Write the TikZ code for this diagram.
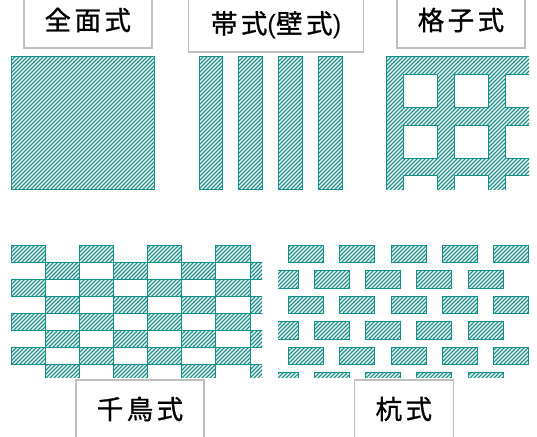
\documentclass[tikz,border=0pt]{standalone}
\usepackage{fontspec}
\usetikzlibrary{patterns.meta}
\newfontfamily\jpfont[LetterSpace=13, FakeBold=1]{Noto Sans CJK JP}
\setsansfont{Liberation Sans}
\definecolor{pileteal}{HTML}{12908A}
\definecolor{boxgray}{HTML}{BFBFBF}
\tikzset{
	hatched/.style  = {draw=pileteal, line width=0.9pt,
		pattern={Lines[angle=45, distance=2.8284pt, line width=1.35pt]},
		pattern color=pileteal},
	namebox/.style  = {draw=boxgray, line width=1.5pt, fill=white,
		inner sep=0pt, font=\jpfont\fontsize{26.5}{26.5}\selectfont},
}

\begin{document}
\begin{tikzpicture}[x=1pt, y=-1pt]    %<--one unit is one reference pixel
	\useasboundingbox (0,0) rectangle (537,436);

	%Full surface and bands:
	\path[hatched] (11,56) rectangle (154,189);
	\foreach \xa/\xb in {199/222, 238/262, 278/302, 318/342}
		\path[hatched] (\xa,56) rectangle (\xb,189);

	%Lattice, cut off on the right and at the bottom:
	\begin{scope}
		\clip (385,55) rectangle (529,189);
		\path[hatched, even odd rule] (386,56) rectangle (560,220)
			\foreach \hx in {403.3, 454.3, 505.5} {
				\foreach \hy in {74, 125, 175.7} {
					(\hx,\hy) rectangle ++(34.2,33.3)
				}
			};
	\end{scope}

	%Staggered cells:
	\begin{scope}
		\clip (11,245) rectangle (262,377.7);
		\foreach \row in {0,...,7} {
			\pgfmathsetmacro{\shift}{mod(\row,2)*34.1}
			\pgfmathsetmacro{\ytop}{245.3+17*\row}
			\foreach \col in {0,...,3}
				\path[hatched] ({11.3+\shift+68.2*\col},\ytop) rectangle ++(34.1,17);
		}
	\end{scope}

	%Pile rows:
	\begin{scope}
		\clip (278,245) rectangle (529,377.7);
		\foreach \ytop/\yh in {245.3/17, 296.3/17.4, 347/17.6}
			\foreach \xa in {288.3, 339.7, 391, 442.2, 493.3}
				\path[hatched] (\xa,\ytop) rectangle ++(35.2,\yh);
		\foreach \ytop/\yh in {270.3/18.4, 321.7/17.6, 372.3/18}
			\foreach \xa in {263, 314, 365.3, 416.7, 468.3}
				\path[hatched] (\xa,\ytop) rectangle ++(35.2,\yh);
	\end{scope}

	%Drawing the name boxes:
	\node (full)    at (87.8,20)  [namebox, minimum width=128pt, minimum height=56pt] {全面式};
	\node (band)    at (276.2,25) [namebox, minimum width=175pt, minimum height=54pt]
		{帯式\sffamily(\jpfont 壁式\sffamily)};
	\node (lattice) at (461,20)   [namebox, minimum width=128pt, minimum height=56pt] {格子式};
	\node (stagger) at (140,409)  [namebox, minimum width=128pt, minimum height=58pt] {千鳥式};
	\node (pile)    at (403.8,409) [namebox, minimum width=99pt, minimum height=58pt] {杭式};

\end{tikzpicture}
\end{document}
